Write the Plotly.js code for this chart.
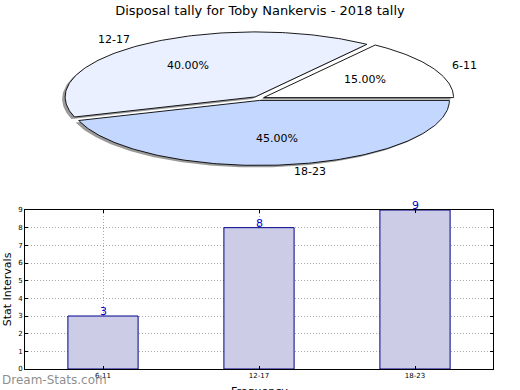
<!DOCTYPE html>
<html>
<head>
<meta charset="utf-8">
<script src="https://cdn.plot.ly/plotly-3.0.1.min.js"></script>
<style>html,body{margin:0;padding:0;background:#fff;}#chart{width:520px;height:390px;}</style>
</head>
<body>
<div id="chart"></div>
<script>
// ---- data ----
const categories = ['6-11', '12-17', '18-23'];
const tally = [3, 8, 9];
const yTicks = [0, 1, 2, 3, 4, 5, 6, 7, 8, 9];
const chartTitle = 'Disposal tally for Toby Nankervis - 2018 tally';

// ---- style ----
const sliceColors = ['#ffffff', '#eaf0ff', '#c4d7ff'];
const FONT = 'DejaVu Sans, sans-serif';
// pie geometry in pixel space
const cx = 258.5, cy = 98.5, rx = 190, ry = 65, explode = 0.03;
const shadowDx = -3, shadowDy = 2;

const total = tally.reduce((a, b) => a + b, 0);
const traces = [];
const annotations = [];
const deg = Math.PI / 180;

function slice(i, dx, dy) {
  let before = 0;
  for (let k = 0; k < i; k++) before += tally[k];
  const a0 = before / total * 360, a1 = (before + tally[i]) / total * 360;
  const mid = (a0 + a1) / 2;
  const ox = cx + explode * rx * Math.cos(mid * deg) + dx;
  const oy = cy - explode * ry * Math.sin(mid * deg) + dy;
  const xs = [ox], ys = [oy];
  const n = Math.max(2, Math.ceil(a1 - a0));
  for (let s = 0; s <= n; s++) {
    const t = (a0 + (a1 - a0) * s / n) * deg;
    xs.push(ox + rx * Math.cos(t));
    ys.push(oy - ry * Math.sin(t));
  }
  xs.push(ox); ys.push(oy);
  return {xs, ys, mid, ox, oy};
}

// shadows
categories.forEach((c, i) => {
  const s = slice(i, shadowDx, shadowDy);
  traces.push({type: 'scatter', mode: 'lines', x: s.xs, y: s.ys, xaxis: 'x2', yaxis: 'y2',
    fill: 'toself', fillcolor: 'rgba(120,120,120,0.75)', line: {width: 0, color: 'rgba(0,0,0,0)'},
    hoverinfo: 'skip', showlegend: false});
});
// slices
categories.forEach((c, i) => {
  const s = slice(i, 0, 0);
  traces.push({type: 'scatter', mode: 'lines', x: s.xs, y: s.ys, xaxis: 'x2', yaxis: 'y2',
    fill: 'toself', fillcolor: sliceColors[i], line: {width: 0.9, color: '#000'},
    hoverinfo: 'skip', showlegend: false});
  const cm = Math.cos(s.mid * deg), sm = Math.sin(s.mid * deg);
  annotations.push({xref: 'x2', yref: 'y2', x: s.ox + 0.6 * rx * cm, y: s.oy - 0.6 * ry * sm,
    text: (tally[i] / total * 100).toFixed(2) + '%', showarrow: false,
    font: {family: FONT, size: 11, color: '#000'}, xanchor: 'center', yanchor: 'middle'});
  annotations.push({xref: 'x2', yref: 'y2', x: s.ox + 1.1 * rx * cm, y: s.oy - 1.1 * ry * sm,
    text: c, showarrow: false, font: {family: FONT, size: 11, color: '#000'},
    xanchor: cm >= 0 ? 'left' : 'right', yanchor: 'middle'});
});

// bars
traces.push({type: 'bar', x: categories, y: tally, xaxis: 'x', yaxis: 'y', width: 0.45,
  marker: {color: 'rgb(204,204,230)', line: {color: '#00008b', width: 1}},
  hoverinfo: 'skip', showlegend: false});
categories.forEach((c, i) => {
  annotations.push({xref: 'x', yref: 'y', x: c, y: tally[i], text: String(tally[i]), showarrow: false,
    xanchor: 'center', yanchor: 'bottom', yshift: -4, font: {family: FONT, size: 11, color: '#0000cc'}});
});

annotations.push({xref: 'paper', yref: 'paper', x: 259 / 520, y: 1 - 383 / 390, text: 'Frequency',
  showarrow: false, xanchor: 'center', yanchor: 'top', font: {family: FONT, size: 11, color: '#000'}});
annotations.push({xref: 'paper', yref: 'paper', x: 0, y: 1 - 380 / 390, text: 'Dream-Stats.com',
  showarrow: false, xanchor: 'left', yanchor: 'middle', font: {family: FONT, size: 12, color: 'rgba(120,120,120,0.85)'}});

const gridDash = '1px,2px';
const layout = {
  width: 520, height: 390,
  margin: {l: 0, r: 0, t: 0, b: 0},
  paper_bgcolor: '#fff', plot_bgcolor: 'rgba(0,0,0,0)',
  font: {family: FONT, color: '#000'},
  title: {text: chartTitle, font: {family: FONT, size: 13, color: '#000'}, x: 0.5, xanchor: 'center',
    y: 1 - 10 / 390, yanchor: 'middle'},
  showlegend: false,
  bargap: 0,
  xaxis: {domain: [25 / 520, 493 / 520], anchor: 'y', type: 'category', range: [-0.5, 2.5],
    showline: true, linecolor: '#000', linewidth: 1, mirror: 'allticks', ticks: 'inside', ticklen: 3,
    tickcolor: '#000', tickfont: {family: FONT, size: 7, color: '#000'},
    showgrid: true, gridcolor: '#a8a8a8', griddash: gridDash, gridwidth: 1, zeroline: false, fixedrange: true},
  yaxis: {domain: [21 / 390, 180 / 390], anchor: 'x', range: [0, 9], tickvals: yTicks,
    showline: true, linecolor: '#000', linewidth: 1, mirror: 'allticks', ticks: 'inside', ticklen: 3,
    tickcolor: '#000', tickfont: {family: FONT, size: 7, color: '#000'},
    showgrid: true, gridcolor: '#a8a8a8', griddash: gridDash, gridwidth: 1, zeroline: false, fixedrange: true,
    title: {text: 'Stat Intervals', font: {family: FONT, size: 11, color: '#000'}, standoff: 4}},
  xaxis2: {domain: [0, 1], anchor: 'y2', range: [0, 520], visible: false, fixedrange: true},
  yaxis2: {domain: [0, 1], anchor: 'x2', range: [390, 0], visible: false, fixedrange: true},
  annotations: annotations
};

Plotly.newPlot('chart', traces, layout, {staticPlot: true, displayModeBar: false});
</script>
</body>
</html>
